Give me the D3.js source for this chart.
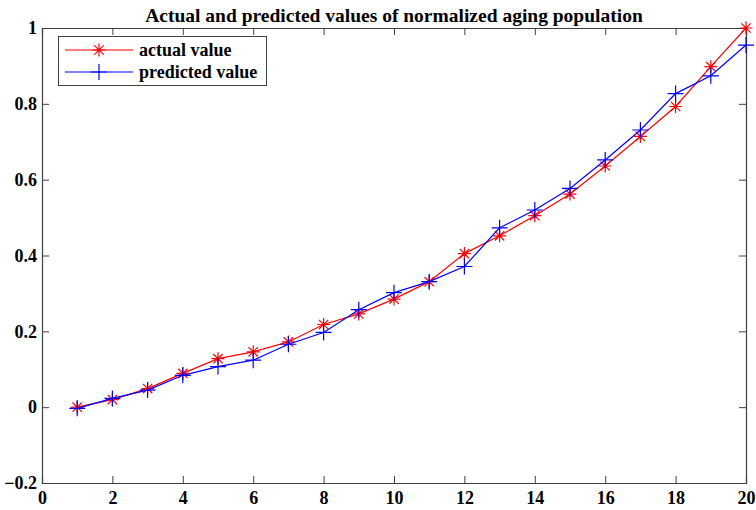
<!DOCTYPE html>
<html>
<head>
<meta charset="utf-8">
<script src="https://cdn.jsdelivr.net/npm/d3@7"></script>
<style>
  html, body { margin: 0; padding: 0; background: #fff; }
  svg text { font-family: "Liberation Serif", "Times New Roman", serif !important; font-weight: bold; fill: #000; }
</style>
</head>
<body>
<svg id="chart" width="756" height="510"></svg>
<script>
// Sample index (1..20)
const samples = d3.range(1, 21);
// Normalized aging population: observed values
const actualValues = [0, 0.020, 0.049, 0.089, 0.128, 0.146, 0.172, 0.218, 0.246, 0.285,
                      0.331, 0.405, 0.452, 0.505, 0.562, 0.636, 0.714, 0.793, 0.898, 1.0];
// Model output for the same samples
const predictedValues = [-0.003, 0.023, 0.045, 0.084, 0.107, 0.124, 0.166, 0.197, 0.257, 0.302,
                         0.331, 0.371, 0.473, 0.520, 0.577, 0.652, 0.731, 0.827, 0.874, 0.955];
const xTicks = d3.range(0, 21, 2);
const yTicks = [-0.2, 0, 0.2, 0.4, 0.6, 0.8, 1];
const titleText = "Actual and predicted values of normalized aging population";
const legendLabels = ["actual value", "predicted value"];

const svg = d3.select("#chart");
const m = { left: 42, right: 746, top: 28, bottom: 483 };
const axisColor = "#404040";
const serif = '"Liberation Serif", "Times New Roman", serif';

const x = d3.scaleLinear().domain([0, 20]).range([m.left, m.right]);
const y = d3.scaleLinear().domain([-0.2, 1]).range([m.bottom, m.top]);

// Axes with inward ticks on all four sides (boxed plot)
const tick = 7;
const fmt = d => d3.format("")(d);
const gB = svg.append("g").attr("transform", `translate(0,${m.bottom})`)
  .call(d3.axisBottom(x).tickValues(xTicks).tickSize(-tick).tickPadding(8).tickFormat(fmt));
const gT = svg.append("g").attr("transform", `translate(0,${m.top})`)
  .call(d3.axisTop(x).tickValues(xTicks).tickSize(-tick).tickFormat(""));
const gL = svg.append("g").attr("transform", `translate(${m.left},0)`)
  .call(d3.axisLeft(y).tickValues(yTicks).tickSize(-tick).tickPadding(5).tickFormat(fmt));
const gR = svg.append("g").attr("transform", `translate(${m.right},0)`)
  .call(d3.axisRight(y).tickValues(yTicks).tickSize(-tick).tickFormat(""));

[gB, gT, gL, gR].forEach(g => {
  g.attr("font-family", serif).attr("font-size", 18).attr("font-weight", "bold");
  g.select(".domain").attr("stroke", axisColor).attr("stroke-width", 1.2);
  g.selectAll(".tick line").attr("stroke", axisColor).attr("stroke-width", 1);
  g.selectAll(".tick text").attr("fill", "#000");
});
// remove end ticks that coincide with the box edges
gT.selectAll(".tick").filter(d => d === 0 || d === 20).select("line").remove();
gB.selectAll(".tick").filter(d => d === 0 || d === 20).select("line").remove();
gL.selectAll(".tick").filter(d => d === -0.2 || d === 1).select("line").remove();
gR.selectAll(".tick").filter(d => d === -0.2 || d === 1).select("line").remove();

// Title
svg.append("text")
  .attr("x", (m.left + m.right) / 2).attr("y", 22)
  .attr("text-anchor", "middle").attr("font-size", 19.5)
  .text(titleText);

const line = d3.line().x((d, i) => x(samples[i])).y(d => y(d));

function starPath(s) {
  const r = s / 2, d = r * 0.72;
  return `M${-r},0L${r},0M0,${-r}L0,${r}M${-d},${-d}L${d},${d}M${-d},${d}L${d},${-d}`;
}
function plusPath(s) {
  const r = s / 2;
  return `M${-r},0L${r},0M0,${-r}L0,${r}`;
}

const series = [
  { values: actualValues, color: "#ff0000", marker: starPath(13) },
  { values: predictedValues, color: "#0000ff", marker: plusPath(16) }
];

const plot = svg.append("g");
series.forEach(s => {
  plot.append("path").datum(s.values)
    .attr("d", line).attr("fill", "none")
    .attr("stroke", s.color).attr("stroke-width", 1.2);
  plot.selectAll(null).data(s.values).enter().append("path")
    .attr("transform", (d, i) => `translate(${x(samples[i])},${y(d)})`)
    .attr("d", s.marker).attr("fill", "none")
    .attr("stroke", s.color).attr("stroke-width", 1.2);
});

// Legend
const lg = svg.append("g");
lg.append("rect").attr("x", 58.5).attr("y", 36.5).attr("width", 208).attr("height", 49)
  .attr("fill", "#fff").attr("stroke", axisColor).attr("stroke-width", 1);
series.forEach((s, i) => {
  const ly = 50 + i * 22;
  lg.append("line").attr("x1", 65).attr("x2", 133).attr("y1", ly).attr("y2", ly)
    .attr("stroke", s.color).attr("stroke-width", 1.2);
  lg.append("path").attr("transform", `translate(99,${ly})`)
    .attr("d", s.marker).attr("fill", "none").attr("stroke", s.color).attr("stroke-width", 1.2);
  lg.append("text").attr("x", 139).attr("y", ly + 6).attr("font-size", 18).text(legendLabels[i]);
});
</script>
</body>
</html>
